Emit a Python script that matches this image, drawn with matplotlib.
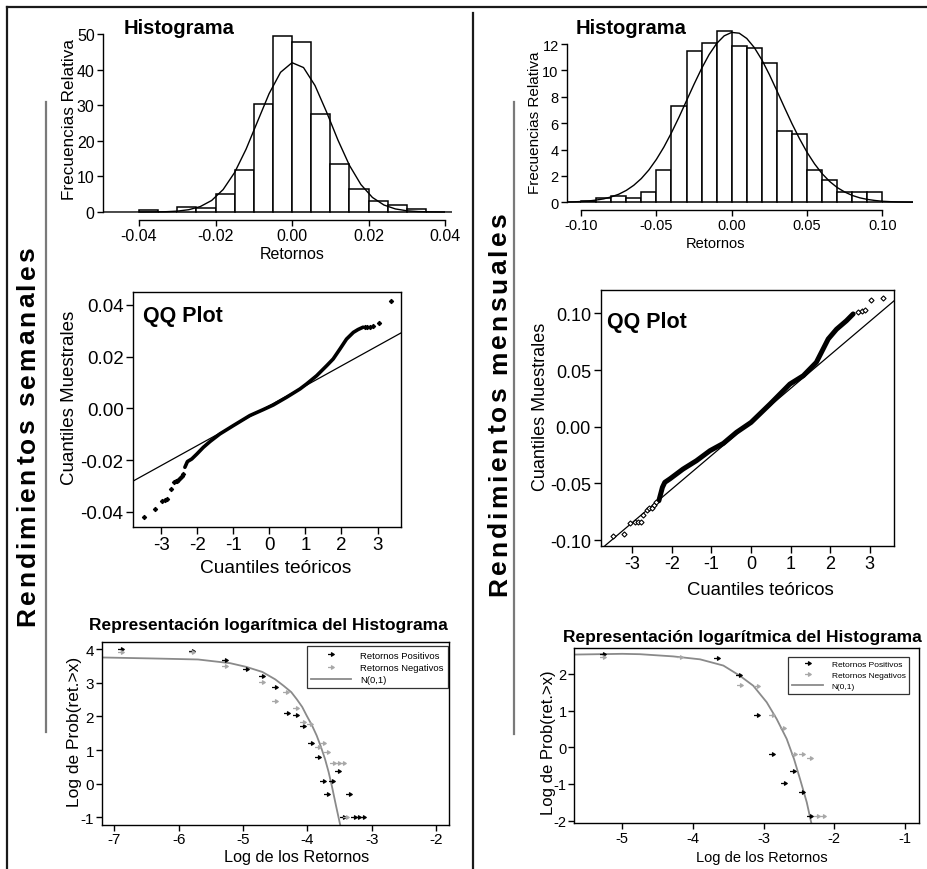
import matplotlib
matplotlib.use("Agg")
import matplotlib.pyplot as plt
import numpy as np
from matplotlib import font_manager
from matplotlib.path import Path
from matplotlib.lines import Line2D
from matplotlib.textpath import TextToPath
from matplotlib.font_manager import FontProperties

# ---------------- data ----------------
# Histograma semanal (anchura de clase 0.005)
sem_bin_ini = [-0.040, -0.035, -0.030, -0.025, -0.020, -0.015, -0.010, -0.005,
               0.000, 0.005, 0.010, 0.015, 0.020, 0.025, 0.030, 0.035]
sem_frec = [0.5, 0.0, 1.3, 1.2, 5.1, 11.7, 30.4, 49.5,
            47.7, 27.4, 13.4, 6.4, 3.1, 1.9, 0.7, 0.0]
sem_curva_x = [-0.0494, -0.045, -0.042, -0.039, -0.036, -0.033, -0.030, -0.027, -0.024,
               -0.021, -0.018, -0.015, -0.012, -0.009, -0.006, -0.003, 0.000, 0.003,
               0.006, 0.009, 0.012, 0.015, 0.018, 0.021, 0.024, 0.027, 0.030, 0.033,
               0.036, 0.039, 0.0418]
sem_curva_y = [0.0, 0.0, 0.0, 0.01, 0.03, 0.08, 0.24, 0.64, 1.51,
               3.24, 6.31, 11.10, 17.67, 25.47, 33.23, 39.24, 41.94, 40.57,
               35.52, 28.14, 20.19, 13.10, 7.70, 4.09, 1.97, 0.86, 0.34, 0.12,
               0.04, 0.01, 0.0]

# Histograma mensual (anchura de clase 0.01)
men_bin_ini = [-0.11, -0.10, -0.09, -0.08, -0.07, -0.06, -0.05, -0.04, -0.03, -0.02,
               -0.01, 0.00, 0.01, 0.02, 0.03, 0.04, 0.05, 0.06, 0.07, 0.08, 0.09,
               0.10, 0.11]
men_frec = [0.05, 0.13, 0.35, 0.5, 0.35, 0.8, 2.47, 7.3, 11.5, 12.05,
            12.95, 11.84, 11.72, 10.53, 5.43, 5.2, 2.47, 1.69, 0.8, 0.8, 0.75,
            0.05, 0.05]
men_curva_x = [-0.110, -0.105, -0.100, -0.095, -0.090, -0.085, -0.080, -0.075, -0.070,
               -0.065, -0.060, -0.055, -0.050, -0.045, -0.040, -0.035, -0.030, -0.025,
               -0.020, -0.015, -0.010, -0.005, 0.000, 0.005, 0.010, 0.015, 0.020,
               0.025, 0.030, 0.035, 0.040, 0.045, 0.050, 0.055, 0.060, 0.065, 0.070,
               0.075, 0.080, 0.085, 0.090, 0.095, 0.100, 0.105, 0.110, 0.115, 0.120]
men_curva_y = [0.02, 0.035, 0.06, 0.10, 0.17, 0.26, 0.41, 0.61, 0.90,
               1.29, 1.80, 2.45, 3.25, 4.19, 5.27, 6.45, 7.70, 8.95,
               10.14, 11.20, 12.04, 12.62, 12.88, 12.82, 12.42, 11.73, 10.80,
               9.68, 8.45, 7.19, 5.96, 4.82, 3.79, 2.91, 2.17, 1.58, 1.12,
               0.78, 0.52, 0.34, 0.22, 0.14, 0.08, 0.05, 0.03, 0.02, 0.01]

# QQ semanal: tramo central denso y colas
qq_sem_cuerpo_x = [-2.34, -2.27, -2.15, -2.01, -1.83, -1.64, -1.37, -1.00, -0.54, -0.17,
                   0.11, 0.48, 0.85, 1.03, 1.31, 1.59, 1.77, 1.96, 2.14, 2.33, 2.46, 2.60]
qq_sem_cuerpo_y = [-0.0228, -0.0206, -0.0196, -0.0177, -0.0151, -0.0128, -0.0099, -0.0067,
                   -0.0028, -0.0005, 0.0013, 0.0043, 0.0075, 0.0094, 0.0126, 0.0165,
                   0.0191, 0.0230, 0.0268, 0.0294, 0.0305, 0.0314]
qq_sem_colas_x = [-3.48, -3.17, -2.98, -2.90, -2.84, -2.73, -2.64, -2.60, -2.57, -2.52,
                  -2.47, -2.43, -2.40, 2.66, 2.72, 2.79, 2.88, 3.04, 3.36]
qq_sem_colas_y = [-0.0421, -0.0390, -0.0360, -0.0355, -0.0351, -0.0312, -0.0286, -0.0283,
                  -0.0280, -0.0276, -0.0270, -0.0262, -0.0254, 0.0314, 0.0314, 0.0314,
                  0.0317, 0.0330, 0.0417]
qq_sem_recta = (0.0010, 0.00772)   # ordenada, pendiente

# QQ mensual
qq_men_cuerpo_x = [-2.33, -2.24, -2.18, -2.05, -1.72, -1.38, -1.04, -0.70, -0.37, 0.0,
                   0.48, 0.98, 1.32, 1.65, 1.95, 2.16, 2.41, 2.58]
qq_men_cuerpo_y = [-0.0653, -0.0535, -0.0491, -0.0460, -0.0374, -0.0300, -0.0212, -0.0147,
                   -0.0050, 0.0038, 0.0200, 0.0376, 0.0450, 0.0568, 0.0774, 0.0860,
                   0.0935, 0.0995]
qq_men_colas_x = [-3.50, -3.21, -3.06, -2.93, -2.85, -2.79, -2.72, -2.64, -2.58, -2.51,
                  -2.45, -2.39, 2.70, 2.80, 2.87, 3.03, 3.34]
qq_men_colas_y = [-0.0962, -0.0947, -0.0850, -0.0838, -0.0840, -0.0844, -0.0780, -0.0732,
                  -0.0720, -0.0715, -0.0690, -0.0662, 0.1012, 0.1020, 0.1032, 0.1120,
                  0.1132]
qq_men_recta = (0.0042, 0.02958)

# Representación logarítmica, semanal
log_sem_pos_x = [-6.90, -5.80, -5.275, -4.95, -4.70, -4.50, -4.32, -4.18, -4.06, -3.95,
                 -3.84, -3.76, -3.69, -3.61, -3.53, -3.35, -3.44, -3.27, -3.22, -3.14]
log_sem_pos_y = [4.00, 3.95, 3.67, 3.41, 3.19, 2.86, 2.10, 2.04, 1.72, 1.21,
                 0.78, 0.09, -0.31, 0.09, 0.38, -0.31, -1.00, -1.00, -1.00, -1.00]
log_sem_neg_x = [-6.90, -5.79, -5.275, -4.70, -4.50, -4.33, -4.18, -4.06, -3.96, -3.83,
                 -3.76, -3.69, -3.60, -3.53, -3.45, -3.40]
log_sem_neg_y = [3.90, 3.90, 3.50, 3.03, 2.46, 2.71, 2.24, 1.84, 1.77, 1.08,
                 1.21, 0.95, 0.61, 0.61, 0.61, -1.00]
log_sem_norm_x = [-7.20, -6.40, -5.70, -5.20, -4.95, -4.70, -4.50, -4.37, -4.25, -4.165,
                  -4.08, -4.01, -3.93, -3.855, -3.79, -3.725, -3.67, -3.62, -3.555, -3.49]
log_sem_norm_y = [3.75, 3.72, 3.69, 3.58, 3.47, 3.32, 3.10, 2.91, 2.72, 2.51,
                  2.28, 2.02, 1.74, 1.43, 1.10, 0.73, 0.35, -0.06, -0.65, -1.22]

# Representación logarítmica, mensual
log_men_pos_x = [-5.278, -3.665, -3.344, -3.09, -2.887, -2.58, -2.712, -2.453, -2.345]
log_men_pos_y = [2.545, 2.43, 1.97, 0.89, -0.19, -0.645, -0.97, -1.21, -1.88]
log_men_neg_x = [-5.278, -4.184, -3.335, -3.09, -2.887, -2.72, -2.571, -2.453, -2.345,
                 -2.24, -2.156]
log_men_neg_y = [2.47, 2.455, 1.70, 1.66, 0.89, 0.52, -0.19, -0.19, -0.28,
                 -1.88, -1.88]
log_men_norm_x = [-5.68, -5.00, -4.75, -4.28, -3.90, -3.57, -3.335, -3.147, -2.957,
                  -2.815, -2.674, -2.57, -2.486, -2.39, -2.326]
log_men_norm_y = [2.53, 2.55, 2.54, 2.48, 2.40, 2.23, 1.95, 1.68, 1.23,
                  0.77, 0.23, -0.32, -0.86, -1.50, -2.06]

# ---------------- styling ----------------
W, H = 928, 870
names = {f.name for f in font_manager.fontManager.ttflist}
SANS = "Liberation Sans" if "Liberation Sans" in names else "DejaVu Sans"
NARROW = "Liberation Sans Narrow" if "Liberation Sans Narrow" in names else SANS
plt.rcParams["font.family"] = [SANS, "DejaVu Sans"]
plt.rcParams["axes.linewidth"] = 1.0
plt.rcParams["axes.unicode_minus"] = False

fig = plt.figure(figsize=(W / 100, H / 100), dpi=100)


def px_axes(l, t, r, b):
    return fig.add_axes([l / W, 1 - b / H, (r - l) / W, (b - t) / H])


def px_text(x, y, s, **kw):
    fig.text(x / W, 1 - y / H, s, **kw)


def px_line(xs, ys, **kw):
    fig.add_artist(Line2D([x / W for x in xs], [1 - y / H for y in ys], **kw))


# arrow-like marker used in the log plots
flecha = Path([(-1.0, 0.0), (0.0, 0.0), (0.0, 0.5), (0.8, 0.0), (0.0, -0.5), (0.0, 0.0)],
              [Path.MOVETO, Path.LINETO, Path.MOVETO, Path.LINETO, Path.LINETO, Path.CLOSEPOLY])


def histograma(ax, ini, frec, ancho, cx, cy, xlim, ylim, xticks, xlabels, yticks, fs):
    ax.bar(ini, frec, width=ancho, align="edge", color="white", edgecolor="black",
           linewidth=1.1, zorder=2)
    ax.plot(cx, cy, color="black", lw=1.0, zorder=3)
    ax.set_xlim(xlim)
    ax.set_ylim(ylim)
    ax.patch.set_alpha(0)
    for s in ("top", "right"):
        ax.spines[s].set_visible(False)
    ax.spines["left"].set_bounds(yticks[0], yticks[-1])
    ax.spines["bottom"].set_bounds(xticks[0], xticks[-1])
    ax.set_xticks(xticks)
    ax.set_xticklabels(xlabels)
    ax.set_yticks(yticks)
    ax.tick_params(direction="out", length=4, width=1, labelsize=fs, pad=2)


def qq(ax, cx, cy, tx, ty, recta, xlim, ylim, yticks, ylabels, fs, grosor, ms, hueco):
    ax.axline((0, recta[0]), slope=recta[1], color="black", lw=0.9, zorder=2)
    ax.plot(cx, cy, color="black", lw=grosor, solid_capstyle="round",
            solid_joinstyle="round", zorder=3)
    ax.plot(tx, ty, ls="none", marker="D", ms=ms, mec="black",
            mfc="white" if hueco else "black", mew=0.8, zorder=3)
    ax.set_xlim(xlim)
    ax.set_ylim(ylim)
    ax.set_xticks([-3, -2, -1, 0, 1, 2, 3])
    ax.set_yticks(yticks)
    ax.set_yticklabels(ylabels)
    ax.tick_params(direction="out", length=5, width=1, labelsize=fs, pad=2)


def logplot(ax, px_, py_, nx_, ny_, cx, cy, xlim, ylim, xticks, yticks, fs,
            leg_anchor, leg_fs, leg_hl):
    ax.plot(cx, cy, color="#8a8a8a", lw=1.3, zorder=2, label="N(0,1)")
    ax.plot(px_, py_, ls="none", marker=flecha, ms=5, color="black", mew=0.9,
            zorder=3, label="Retornos Positivos")
    ax.plot(nx_, ny_, ls="none", marker=flecha, ms=5, color="#a8a8a8", mew=0.9,
            zorder=3, label="Retornos Negativos")
    ax.set_xlim(xlim)
    ax.set_ylim(ylim)
    ax.set_xticks(xticks)
    ax.set_xticklabels([str(t) for t in xticks])
    ax.set_yticks(yticks)
    ax.set_yticklabels([str(t) for t in yticks])
    ax.tick_params(direction="out", length=4, width=1, labelsize=fs, pad=1.5)
    h, l = ax.get_legend_handles_labels()
    leg = ax.legend([h[1], h[2], h[0]], [l[1], l[2], l[0]], loc="upper right",
                    bbox_to_anchor=leg_anchor, fontsize=leg_fs, frameon=True,
                    fancybox=False, edgecolor="black", handlelength=leg_hl,
                    handletextpad=1.0, borderpad=0.45, labelspacing=0.35,
                    borderaxespad=0.0)
    leg.get_frame().set_linewidth(0.9)


# ---------------- left column: rendimientos semanales ----------------
ax1 = px_axes(103, 30, 452, 221)
histograma(ax1, sem_bin_ini, sem_frec, 0.005, sem_curva_x, sem_curva_y,
           (-0.0494, 0.0418), (-2.25, 51.4),
           [-0.04, -0.02, 0.0, 0.02, 0.04], ["-0.04", "-0.02", "0.00", "0.02", "0.04"],
           [0, 10, 20, 30, 40, 50], 11.5)
px_text(179, 34, "Histograma", fontsize=14.5, fontweight="bold", family=NARROW,
        ha="center", va="baseline")
px_text(69, 120, "Frecuencias Relativa", rotation=90, fontsize=12.3, ha="center", va="center")
px_text(292, 259, "Retornos", fontsize=11.5, ha="center", va="baseline")

ax2 = px_axes(133.3, 293.3, 401, 527.7)
qq(ax2, qq_sem_cuerpo_x, qq_sem_cuerpo_y, qq_sem_colas_x, qq_sem_colas_y, qq_sem_recta,
   (-3.77, 3.65), (-0.0458, 0.0449), [-0.04, -0.02, 0.0, 0.02, 0.04],
   ["-0.04", "-0.02", "0.00", "0.02", "0.04"], 13.5, 2.6, 2.2, False)
px_text(143, 322, "QQ Plot", fontsize=15.5, fontweight="bold", family=NARROW,
        ha="left", va="baseline")
px_text(69, 398, "Cuantiles Muestrales", rotation=90, fontsize=13.5, ha="center", va="center")
px_text(276, 573, "Cuantiles teóricos", fontsize=13.8, ha="center", va="baseline")

ax3 = px_axes(101.7, 642.7, 449, 825.7)
logplot(ax3, log_sem_pos_x, log_sem_pos_y, log_sem_neg_x, log_sem_neg_y,
        log_sem_norm_x, log_sem_norm_y, (-7.197, -1.798), (-1.218, 4.218),
        [-7, -6, -5, -4, -3, -2], [-1, 0, 1, 2, 3, 4], 11, (0.997, 0.975), 6.8, 4.2)
px_text(268, 630, "Representación logarítmica del Histograma", fontsize=12.5,
        fontweight="bold", family=NARROW, ha="center", va="baseline")
px_text(75, 732, "Log de Prob(ret.>x)", rotation=90, fontsize=12.5, ha="center", va="center")
px_text(297, 862, "Log de los Retornos", fontsize=11.7, ha="center", va="baseline")

# ---------------- right column: rendimientos mensuales ----------------
ax4 = px_axes(567, 28, 913, 210.7)
histograma(ax4, men_bin_ini, men_frec, 0.01, men_curva_x, men_curva_y,
           (-0.1093, 0.1203), (-0.56, 13.29),
           [-0.10, -0.05, 0.0, 0.05, 0.10], ["-0.10", "-0.05", "0.00", "0.05", "0.10"],
           [0, 2, 4, 6, 8, 10, 12], 10.5)
px_text(631, 34, "Histograma", fontsize=14.5, fontweight="bold", family=NARROW,
        ha="center", va="baseline")
px_text(535, 123, "Frecuencias Relativa", rotation=90, fontsize=11.0, ha="center", va="center")
px_text(716, 248, "Retornos", fontsize=10.5, ha="center", va="baseline")

ax5 = px_axes(600.7, 290.7, 894.3, 546.7)
qq(ax5, qq_men_cuerpo_x, qq_men_cuerpo_y, qq_men_colas_x, qq_men_colas_y, qq_men_recta,
   (-3.80, 3.62), (-0.105, 0.1209), [-0.10, -0.05, 0.0, 0.05, 0.10],
   ["-0.10", "-0.05", "0.00", "0.05", "0.10"], 13, 3.6, 2.6, True)
px_text(607, 328, "QQ Plot", fontsize=15.5, fontweight="bold", family=NARROW,
        ha="left", va="baseline")
px_text(541, 407, "Cuantiles Muestrales", rotation=90, fontsize=13, ha="center", va="center")
px_text(760, 595, "Cuantiles teóricos", fontsize=13.3, ha="center", va="baseline")

ax6 = px_axes(574.3, 649, 919, 824)
logplot(ax6, log_men_pos_x, log_men_pos_y, log_men_neg_x, log_men_neg_y,
        log_men_norm_x, log_men_norm_y, (-5.679, -0.802), (-2.064, 2.709),
        [-5, -4, -3, -2, -1], [-2, -1, 0, 1, 2], 10.5, (0.972, 0.95), 6.0, 3.8)
px_text(742, 642, "Representación logarítmica del Histograma", fontsize=12.5,
        fontweight="bold", family=NARROW, ha="center", va="baseline")
px_text(548, 743, "Log de Prob(ret.>x)", rotation=90, fontsize=12, ha="center", va="center")
px_text(762, 862, "Log de los Retornos", fontsize=10.5, ha="center", va="baseline")

# ---------------- frame, separators and side titles ----------------
px_line([7, 928], [8, 8], color="#1a1a1a", lw=1.6)
px_line([7, 7], [8, 870], color="#1a1a1a", lw=1.6)
px_line([473.5, 473.5], [14, 870], color="#1a1a1a", lw=1.6)
px_line([46.5, 46.5], [103, 733], color="#7a7a7a", lw=1.6)
px_line([514, 514], [103, 735], color="#7a7a7a", lw=1.6)

ttp = TextToPath()
side_prop = FontProperties(family=SANS, weight="bold", size=19)


def ancho_px(ch):
    if ch == " ":
        w2 = ttp.get_text_width_height_descent("n n", side_prop, ismath=False)[0]
        w1 = ttp.get_text_width_height_descent("nn", side_prop, ismath=False)[0]
        return (w2 - w1) * 100 / 72
    return ttp.get_text_width_height_descent(ch, side_prop, ismath=False)[0] * 100 / 72


def texto_vertical(x_base, y_ini, y_fin, s):
    anchos = [ancho_px(c) for c in s]
    extra = ((y_ini - y_fin) - sum(anchos)) / (len(s) - 1)
    y = y_ini
    for c, w in zip(s, anchos):
        if c != " ":
            px_text(x_base, y, c, rotation=90, rotation_mode="anchor", ha="left",
                    va="baseline", fontproperties=side_prop)
        y -= w + extra


texto_vertical(34.5, 626, 247, "Rendimientos semanales")
texto_vertical(506, 596, 213, "Rendimientos mensuales")

fig.savefig("out.png", dpi=100)
